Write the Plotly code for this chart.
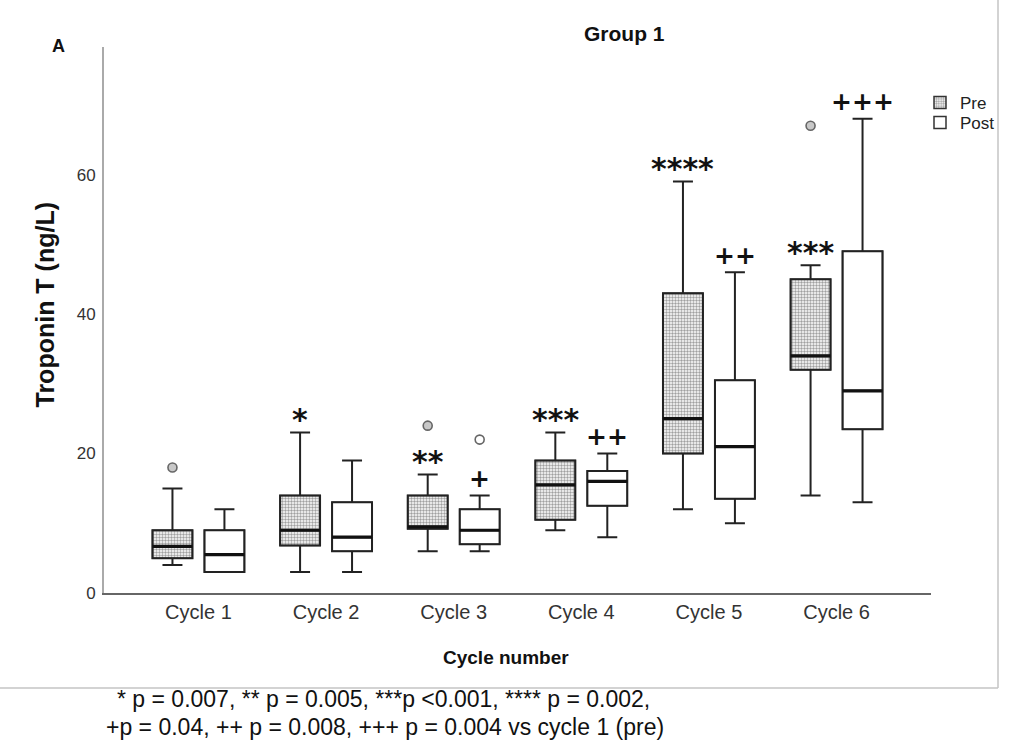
import plotly.graph_objects as go

# ---------------- data ----------------
cycles = ["Cycle 1", "Cycle 2", "Cycle 3", "Cycle 4", "Cycle 5", "Cycle 6"]
cycle_pos = [1, 2, 3, 4, 5, 6]

pre_low = [4, 3, 6, 9, 12, 14]
pre_q1 = [5, 6.8, 9.2, 10.5, 20, 32]
pre_med = [6.7, 9, 9.5, 15.5, 25, 34]
pre_q3 = [9, 14, 14, 19, 43, 45]
pre_high = [15, 23, 17, 23, 59, 47]
pre_out_cycle = [1, 3, 6]
pre_out_val = [18, 24, 67]

post_low = [3, 3, 6, 8, 10, 13]
post_q1 = [3, 6, 7, 12.5, 13.5, 23.5]
post_med = [5.5, 8, 9, 16, 21, 29]
post_q3 = [9, 13, 12, 17.5, 30.5, 49]
post_high = [12, 19, 14, 20, 46, 68]
post_out_cycle = [3]
post_out_val = [22]

pre_sig = ["", "*", "**", "***", "****", "***"]
post_sig = ["", "", "+", "++", "++", "+++"]

y_ticks = [0, 20, 40, 60]
footnote_1 = "* p = 0.007, ** p = 0.005, ***p &lt;0.001, **** p = 0.002,"
footnote_2 = "+p = 0.04, ++ p = 0.008, +++ p = 0.004 vs cycle 1 (pre)"

# ---------------- layout constants ----------------
W, H = 1032, 742
ML, MR, MT, MB = 104, 101, 47, 149
PW, PH = W - ML - MR, H - MT - MB
X_RANGE = [0.26, 6.74]
Y_RANGE = [0, 78.3]
OFF = 0.2036      # half distance between pre/post box centres
BW = 0.313        # box width (data units)
FONT = "Liberation Sans, Arial, sans-serif"
SIGFONT = "DejaVu Sans, sans-serif"


def px_x(p):
    return (p - ML) / PW


def px_y(p):
    return (MT + PH - p) / PH


pre_x = [c - OFF for c in cycle_pos]
post_x = [c + OFF for c in cycle_pos]
pre_out_x = [c - OFF for c in pre_out_cycle]
post_out_x = [c + OFF for c in post_out_cycle]

fig = go.Figure()

# patterned / white fills (also used as legend entries)
fig.add_trace(go.Bar(
    x=pre_x, base=pre_q1, y=[b - a for a, b in zip(pre_q1, pre_q3)], width=BW,
    name="Pre", legend="legend",
    marker=dict(color="white", line=dict(color="#333", width=1.5),
                pattern=dict(shape=".", size=3, solidity=0.5,
                             fgcolor="#a0a0a0", bgcolor="white", fillmode="replace")),
    hoverinfo="skip"))
fig.add_trace(go.Bar(
    x=post_x, base=post_q1, y=[b - a for a, b in zip(post_q1, post_q3)], width=BW,
    name="Post", legend="legend2",
    marker=dict(color="white", line=dict(color="#333", width=1.5)),
    hoverinfo="skip"))

# box plots (outline, whiskers, median)
for xs, lo, q1, md, q3, hi in [(pre_x, pre_low, pre_q1, pre_med, pre_q3, pre_high),
                               (post_x, post_low, post_q1, post_med, post_q3, post_high)]:
    fig.add_trace(go.Box(
        x=xs, q1=q1, median=md, q3=q3, lowerfence=lo, upperfence=hi,
        width=BW, whiskerwidth=0.5, boxpoints=False,
        fillcolor="rgba(0,0,0,0)", line=dict(color="#222", width=2),
        showlegend=False, hoverinfo="skip"))
    # thicker median line
    fig.add_trace(go.Box(
        x=xs, q1=md, median=md, q3=md, lowerfence=md, upperfence=md,
        width=BW, whiskerwidth=0, boxpoints=False,
        fillcolor="rgba(0,0,0,0)", line=dict(color="#111", width=3.2),
        showlegend=False, hoverinfo="skip"))

# outliers
fig.add_trace(go.Scatter(
    x=pre_out_x, y=pre_out_val, mode="markers", showlegend=False,
    marker=dict(symbol="circle", size=9, color="#c8c8c8",
                line=dict(color="#666", width=1.6)), hoverinfo="skip"))
fig.add_trace(go.Scatter(
    x=post_out_x, y=post_out_val, mode="markers", showlegend=False,
    marker=dict(symbol="circle", size=9, color="white",
                line=dict(color="#666", width=1.6)), hoverinfo="skip"))

annotations = []
# significance marks above upper whiskers
for xs, hi, sig in [(pre_x, pre_high, pre_sig), (post_x, post_high, post_sig)]:
    for x, h, s in zip(xs, hi, sig):
        if not s:
            continue
        star = s.startswith("*")
        annotations.append(dict(
            x=x, y=h, xref="x", yref="y", text="<b>%s</b>" % s, showarrow=False,
            xanchor="center", yanchor="middle", yshift=13 if star else 17,
            font=dict(family=SIGFONT, size=30 if star else 25, color="#111")))

annotations += [
    dict(x=px_x(624), y=px_y(33), xref="paper", yref="paper", text="<b>Group 1</b>",
         showarrow=False, xanchor="center", yanchor="middle",
         font=dict(family=FONT, size=21, color="#111")),
    dict(x=px_x(58), y=px_y(46), xref="paper", yref="paper", text="<b>A</b>",
         showarrow=False, xanchor="center", yanchor="middle",
         font=dict(family=FONT, size=18, color="#111")),
    dict(x=px_x(44.5), y=px_y(305), xref="paper", yref="paper",
         text="<b>Troponin T (ng/L)</b>", textangle=-90,
         showarrow=False, xanchor="center", yanchor="middle",
         font=dict(family=FONT, size=25, color="#111")),
    dict(x=px_x(506), y=px_y(657), xref="paper", yref="paper",
         text="<b>Cycle number</b>",
         showarrow=False, xanchor="center", yanchor="middle",
         font=dict(family=FONT, size=19, color="#111")),
    dict(x=px_x(115), y=px_y(699), xref="paper", yref="paper", text=footnote_1,
         showarrow=False, xanchor="left", yanchor="middle",
         font=dict(family=FONT, size=23, color="#111")),
    dict(x=px_x(104), y=px_y(727), xref="paper", yref="paper", text=footnote_2,
         showarrow=False, xanchor="left", yanchor="middle",
         font=dict(family=FONT, size=23, color="#111")),
]

shapes = [
    dict(type="line", xref="paper", yref="paper",
         x0=px_x(998), x1=px_x(998), y0=px_y(0), y1=px_y(688),
         line=dict(color="#c4c4c4", width=1.5)),
    dict(type="line", xref="paper", yref="paper",
         x0=px_x(0), x1=px_x(998), y0=px_y(688), y1=px_y(688),
         line=dict(color="#c4c4c4", width=1.5)),
]

legend_style = dict(xanchor="left", yanchor="top",
                    font=dict(family=FONT, size=17, color="#222"),
                    bgcolor="rgba(0,0,0,0)", borderwidth=0, tracegroupgap=0,
                    itemclick=False, itemdoubleclick=False)

fig.update_layout(
    width=W, height=H, autosize=False,
    margin=dict(l=ML, r=MR, t=MT, b=MB, pad=0),
    paper_bgcolor="white", plot_bgcolor="white",
    barmode="overlay", boxmode="overlay",
    showlegend=True,
    legend=dict(x=px_x(920), y=px_y(85), **legend_style),
    legend2=dict(x=px_x(920), y=px_y(105), **legend_style),
    annotations=annotations, shapes=shapes,
    font=dict(family=FONT, color="#222"),
)
fig.update_xaxes(
    range=X_RANGE, tickmode="array", tickvals=cycle_pos, ticktext=cycles,
    showgrid=False, zeroline=False, showline=True, linecolor="#666", linewidth=1.5,
    ticks="", tickfont=dict(family=FONT, size=20, color="#333"), fixedrange=True)
fig.update_yaxes(
    range=Y_RANGE, tickmode="array", tickvals=y_ticks,
    showgrid=False, zeroline=False, showline=True, linecolor="#aaa", linewidth=2,
    ticks="", ticklabelstandoff=3,
    tickfont=dict(family=FONT, size=17, color="#333"), fixedrange=True)

fig.write_html("out.html")
